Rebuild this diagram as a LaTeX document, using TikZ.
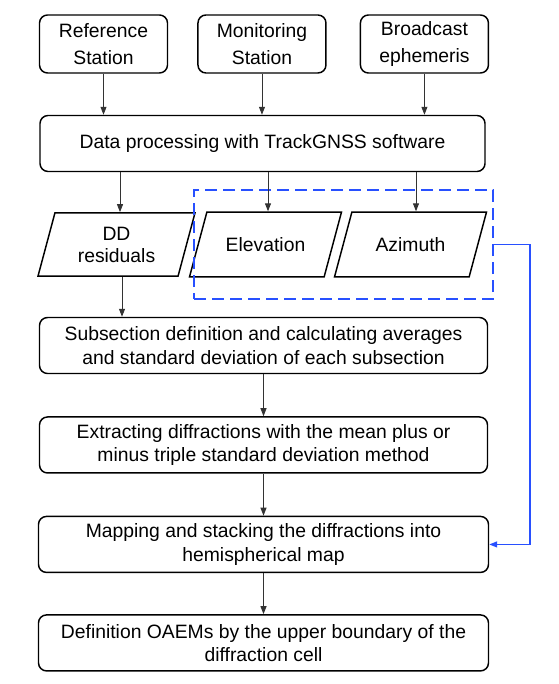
\documentclass[tikz,border=0pt]{standalone}
\usepackage{fontspec}
\setmainfont{Liberation Sans}
\usepackage{tikz}
\usetikzlibrary{shapes.geometric, arrows.meta, positioning}

\definecolor{linkblue}{RGB}{40,80,255}

\begin{document}
\begin{tikzpicture}[
		x=0.75pt, y=-0.75pt,
		font=\fontsize{14.5}{17.5}\selectfont,
		block/.style={rectangle, draw, rounded corners=6pt, align=center,
			minimum height=42pt, minimum width=336pt, line width=1.1pt},
		src/.style={block, minimum width=96pt, minimum height=43.5pt,
			font=\fontsize{14.5}{20}\selectfont},
		io/.style={trapezium, trapezium left angle=75, trapezium right angle=105,
			trapezium stretches body, draw, align=center, line width=1.1pt,
			inner ysep=19pt, minimum width=114pt},
		group/.style={draw=linkblue, dash pattern=on 9pt off 4.5pt, line width=1.4pt,
			minimum width=224.25pt, minimum height=81.75pt, inner sep=0pt},
		line/.style={-{Triangle[length=6pt, width=4.5pt]}, line width=0.7pt, black!80}
		]
		\useasboundingbox (0,0) rectangle (558,684);
		
		% 1. Fuentes de datos
		\node[src] (ref) at (103.5,44) {Reference\\Station};
		\node[src, right=21.75pt of ref] (mon) {Monitoring\\Station};
		\node[src, right=24.75pt of mon] (eph) {Broadcast\\ephemeris};
		\node[block, minimum width=333.75pt] (proc) at (262.5,143.5)
		{Data processing with TrackGNSS software};
		
		% 2. Productos del procesamiento
		\node[io, minimum width=117.75pt, inner ysep=10.4pt,
			font=\fontsize{14.5}{16.5}\selectfont] (dd) at (116.5,244.5) {DD\\residuals};
		\node[io] (elev) at (265.5,244.5) {Elevation};
		\node[io] (azi) at (410.5,244.5) {Azimuth};
		\node[group] (geo) at (343.5,244.5) {};
		
		% 3. Columna principal
		\node[block] (sub) at (263.5,345.5)
		{Subsection definition and calculating averages\\and standard deviation of each subsection};
		\node[block, below=31.5pt of sub] (ext)
		{Extracting diffractions with the mean plus or\\minus triple standard deviation method};
		\node[block, below=31.5pt of ext, minimum width=337.5pt] (map)
		{Mapping and stacking the diffractions into\\hemispherical map};
		\node[block, below=30.75pt of map, minimum width=337.5pt] (oaem)
		{Definition OAEMs by the upper boundary of the\\diffraction cell};
		
		% 4. Conexiones
		\draw[line] (ref) -- (ref |- proc.north);
		\draw[line] (mon) -- (mon |- proc.north);
		\draw[line] (eph) -- (eph |- proc.north);
		\draw[line] (proc.south -| dd) ++(3.5,0) coordinate (p1) -- (p1 |- dd.north);
		\draw[line] (proc.south -| elev) ++(2.5,0) coordinate (p2) -- (p2 |- elev.north);
		\draw[line] (proc.south -| azi) ++(5.5,0) coordinate (p3) -- (p3 |- azi.north);
		\draw[line] (dd.south) ++(5.5,0) coordinate (p4) -- (p4 |- sub.north);
		\draw[line] (sub) -- (ext);
		\draw[line] (ext) -- (map);
		\draw[line] (map) -- (oaem);
		
		% Lazo azul hacia el mapa
		\draw[line, linkblue, line width=1pt] (geo.east) -- ++(36,0) |- (map.east);
		
	\end{tikzpicture}
\end{document}
